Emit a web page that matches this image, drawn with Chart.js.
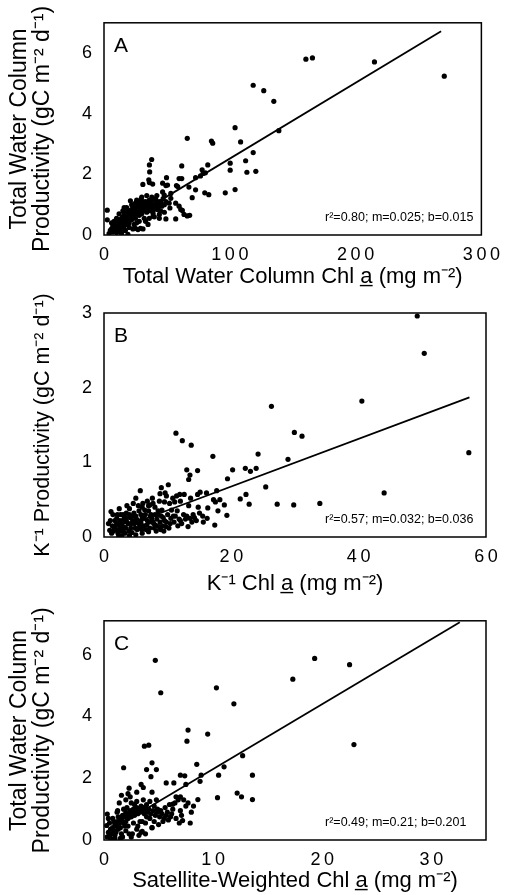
<!DOCTYPE html>
<html>
<head>
<meta charset="utf-8">
<script src="https://cdn.jsdelivr.net/npm/chart.js@4.4.1/dist/chart.umd.min.js"></script>
<style>
  html, body { margin: 0; padding: 0; background: #fff; }
  .panel { position: absolute; left: 0; width: 509px; }
</style>
</head>
<body>
<div class="panel" style="top:0;height:290px"><canvas id="chartA" width="509" height="290"></canvas></div>
<div class="panel" style="top:290px;height:308px"><canvas id="chartB" width="509" height="308"></canvas></div>
<div class="panel" style="top:598px;height:297px"><canvas id="chartC" width="509" height="297"></canvas></div>
<script>
// Panel A: total water column chl a vs productivity
const pointsA = [
  [2.6,0.82],[2.6,0.5],[160.5,5.8],[165.7,5.84],[215,5.71],[270.5,5.24],[118.6,4.94],[127,4.76],[135,4.41],
  [139,3.44],[104.2,3.54],[108.6,3.07],[66.2,3.19],[85.4,3.1],[86.4,3.03],[118.6,2.72],[112.6,2.45],
  [100.3,2.37],[100.3,2.14],[113.6,2.07],[120.7,2.1],[82.5,2.31],[78,2.15],[80.6,2.05],[61.8,2.28],
  [37.9,2.49],[36.1,2.31],[36.3,2.08],[35.6,1.82],[30.9,1.67],[36.1,1.73],[38.7,1.68],[49.7,1.89],
  [46.6,1.71],[50.5,1.65],[59.7,1.86],[61.8,1.86],[72.8,1.89],[76.7,1.95],[78.8,2.03],[67.5,1.58],
  [57.6,1.63],[72.8,1.49],[70.1,1.23],[80.1,1.39],[83.3,1.33],[96.4,1.39],[104.2,1.5],[53.1,1.37],
  [53.1,1.21],[46.6,1.42],[47.9,1.32],[21,1.13],[29.5,1.19],[30.9,1.1],[41,1.2],[43,1.1],[49.2,1.1],
  [51.8,1.05],[52.4,0.89],[57,1.05],[59.7,0.95],[61,0.84],[62.3,0.81],[63.6,0.68],[66.2,0.63],[68.1,0.65],
  [57,0.53],[49.2,0.53],[44,0.68],[42.6,0.84],[58.6,1.6],[49.2,1.63],
  [5,0.15],[6,0.2],[7,0.1],[8,0.25],[8,0.12],[9,0.3],[10,0.2],[10,0.35],[11,0.15],[11,0.4],[12,0.3],
  [12,0.5],[13,0.25],[13,0.45],[14,0.35],[14,0.55],[15,0.4],[15,0.6],[16,0.3],[16,0.5],[16,0.7],[17,0.45],
  [17,0.6],[18,0.35],[18,0.55],[18,0.75],[19,0.5],[19,0.65],[20,0.4],[20,0.6],[20,0.8],[21,0.55],[21,0.7],
  [22,0.5],[22,0.65],[22,0.85],[23,0.6],[23,0.75],[24,0.7],[24,0.9],[25,0.55],[25,0.8],[26,0.7],[26,0.9],
  [27,0.75],[27,0.95],[28,0.65],[28,0.85],[29,0.8],[29,1.0],[30,0.7],[30,0.9],[31,0.85],[31,1.05],[32,0.8],
  [32,0.95],[33,0.9],[33,1.1],[34,0.75],[34,1.0],[35,0.85],[35,1.05],[36,0.95],[37,0.8],[37,1.1],[38,0.9],
  [39,1.0],[40,0.85],[40,1.15],[41,0.95],[42,1.05],[43,0.9],[44,1.0],[45,1.1],[46,0.95],[47,1.2],[48,1.0],
  [19,0.02],[23,0.2],[25,0.22],[27,0.18],[29,0.22],[31,0.2],[14,0.05],[10,0.08],[33,0.45],[36,0.55],
  [39,0.62],[26,0.4],[24,0.35],
  [8,0.45],[10,0.55],[12,0.7],[15,0.2],[17,0.15],[20,0.25],[22,1.0],[25,1.05],[28,1.1],[15,0.8],[18,0.9],
  [30,1.25],[34,1.3],[38,1.25],[42,1.3],[45,0.8],[48,0.75],[44,0.55],[40,0.6],[35,0.35],[32,0.55],
  [28,0.45],[6,0.4],[4,0.05],[7,0.3],[13,0.1],[16,0.9],[26,1.15],[36,1.15],[39,0.72]
];
const fitA = [[4,0.12],[268,6.72]];
const xTicksA = [0, 100, 200, 300];
const yTicksA = [0, 2, 4, 6];

// Panel B: K-1 chl a vs K-1 productivity
const pointsB = [
  [49.2,2.96],[50.3,2.46],[40.5,1.82],[26.3,1.75],[57.3,1.13],[29.9,1.40],[31.1,1.35],[11.3,1.39],
  [12.3,1.29],[13.7,1.23],[17.1,1.08],[24.2,1.11],[28.9,1.04],[22.2,0.92],[23.0,0.88],[23.9,0.92],
  [20.2,0.90],[19.4,0.78],[13.0,0.90],[13.5,0.83],[13.3,0.77],[14.7,0.89],[25.4,0.67],[44.0,0.59],
  [21.4,0.51],[22.3,0.57],[22.8,0.44],[27.2,0.44],[29.8,0.43],[33.9,0.45],[17.7,0.62],[18.2,0.50],
  [17.2,0.50],[17.5,0.47],[18.9,0.43],[17.4,0.16],[19.3,0.29],[17.9,0.35],[16.3,0.39],[16.1,0.59],
  [15.1,0.60],[14.7,0.57],
  [9.0,0.66],[10.1,0.70],[9.6,0.59],[5.7,0.62],[5.0,0.52],[11.9,0.57],[12.6,0.57],[13.6,0.52],[6.1,0.45],
  [7.2,0.43],[7.7,0.45],[8.7,0.48],[9.5,0.47],[10.3,0.45],[11.1,0.47],[13.3,0.42],[14.8,0.40],[11.5,0.35],
  [12.5,0.30],[10.5,0.25],[11.0,0.20],[12.0,0.22],[13.0,0.28],[14.0,0.30],[15.0,0.32],[15.5,0.28],
  [14.5,0.22],[13.5,0.25],[10.0,0.30],[9.5,0.22],[9.0,0.28],[8.5,0.35],[8.0,0.30],[7.5,0.25],[7.0,0.35],
  [6.5,0.30],[6.0,0.25],[5.5,0.35],[5.0,0.28],[4.5,0.22],[4.0,0.30],[3.5,0.25],[3.0,0.20],[2.5,0.15],
  [2.0,0.10],[1.5,0.08],[1.1,0.34],[0.7,0.18],[0.9,0.09],[1.8,0.15],[2.2,0.05],[2.8,0.12],[3.2,0.28],
  [3.8,0.18],[4.2,0.12],[4.8,0.18],[5.2,0.10],[5.8,0.20],[6.2,0.15],[6.8,0.22],[7.2,0.12],[7.8,0.18],
  [8.2,0.08],[8.8,0.20],[9.2,0.15],[4.0,0.38],[3.5,0.32],[3.0,0.30],[2.5,0.22],[6.0,0.40],[7.0,0.42],
  [8.0,0.40],[5.0,0.03],[4.0,0.02],[2.0,0.18],[3.0,0.08],
  [1.2,0.05],[1.6,0.12],[2.0,0.25],[2.4,0.08],[2.6,0.3],[3.0,0.14],[3.3,0.05],[3.6,0.2],[4.1,0.26],
  [4.4,0.06],[4.7,0.32],[5.3,0.22],[5.6,0.14],[6.0,0.05],[6.4,0.36],[6.6,0.1],[7.1,0.2],[7.4,0.3],
  [7.9,0.12],[8.3,0.24],[8.6,0.14],[9.1,0.36],[9.4,0.08],[9.8,0.2],[10.2,0.12],[10.6,0.36],[11.2,0.28],
  [11.6,0.15],[12.2,0.18],[12.8,0.24],[13.2,0.14],[13.8,0.2],[14.2,0.26],[15.6,0.2],[16.2,0.25],
  [10.8,0.52],[11.4,0.55],[12.0,0.48],[9.8,0.55],[8.8,0.58],[7.6,0.52],[6.8,0.48],[5.4,0.42],[4.6,0.45],
  [3.6,0.42],[2.4,0.38],[1.0,0.22],[1.4,0.3],[2.8,0.02],[5.8,0.3],
  [1.3,0.15],[1.7,0.22],[2.1,0.3],[2.3,0.02],[2.7,0.18],[3.1,0.24],[3.4,0.12],[3.9,0.08],[4.3,0.18],
  [4.6,0.28],[4.9,0.12],[5.1,0.24],[5.5,0.18],[5.9,0.1],[6.3,0.25],[6.7,0.16],[7.0,0.07],[7.3,0.28],
  [7.7,0.2],[8.1,0.16],[8.4,0.3],[8.9,0.1],[9.3,0.26],[9.7,0.14],[10.4,0.18],[10.9,0.28],[11.8,0.24]
];
const fitB = [[1,0.07],[57.4,1.87]];
const xTicksB = [0, 20, 40, 60];
const yTicksB = [0, 1, 2, 3];

// Panel C: satellite-weighted chl a vs total productivity
const pointsC = [
  [4.7,5.82],[5.2,4.77],[10.3,4.93],[11.9,4.41],[19.3,5.88],[22.5,5.68],[17.3,5.21],[22.9,3.09],
  [7.7,3.56],[7.6,3.2],[9.5,3.43],[3.7,3.04],[4.1,3.07],[1.8,2.34],[4.4,2.5],[4.8,2.28],[3.9,2.28],
  [12.7,2.73],[11.0,2.37],[8.5,2.45],[7.0,2.1],[7.4,2.08],[8.9,2.1],[10.5,2.1],[13.6,2.1],[5.7,1.85],
  [6.4,1.85],[7.5,1.8],[8.8,1.9],[4.3,2.05],[3.4,1.8],[3.6,1.7],[2.3,1.68],[3.0,1.55],[1.6,1.45],
  [2.2,1.5],[4.4,1.55],[7.0,1.4],[8.6,1.31],[10.4,1.37],[12.2,1.52],[12.6,1.4],[13.6,1.31],[8.2,1.1],
  [8.0,0.9],[7.2,0.63],[7.9,0.55],[6.3,1.16],[0.3,0.84],[0.25,0.47],[1.25,0.95],[4.4,0.4],[3.5,0.28],
  [0.3,0.1],[0.4,0.25],[0.5,0.15],[0.6,0.35],[0.7,0.2],[0.8,0.4],[0.9,0.3],[1.0,0.5],[1.0,0.15],[1.1,0.45],
  [1.2,0.6],[1.3,0.35],[1.4,0.55],[1.5,0.7],[1.5,0.4],[1.6,0.65],[1.7,0.8],[1.8,0.55],[1.9,0.75],[2.0,0.9],
  [2.0,0.6],[2.1,0.8],[2.2,0.7],[2.3,0.85],[2.4,0.95],[2.5,0.75],[2.6,0.9],[2.7,1.0],[2.8,0.8],[2.9,0.95],
  [3.0,1.05],[3.1,0.85],[3.2,1.0],[3.3,0.9],[3.4,1.1],[3.5,0.95],[3.6,1.05],[3.7,0.85],[3.8,1.0],[3.9,1.15],
  [4.0,0.9],[4.1,1.0],[4.3,0.85],[4.5,0.95],[4.7,0.8],[4.9,0.9],[5.1,0.75],[5.3,0.85],[5.5,0.7],[5.7,0.8],
  [5.9,0.65],[6.1,0.75],[6.3,1.0],[6.5,1.2],[6.6,1.4],[6.8,1.3],[4.6,1.1],[4.2,1.25],[3.6,1.3],[3.0,1.25],
  [2.5,1.2],[1.8,1.0],[1.2,0.9],[0.8,0.7],[2.0,0.3],[2.5,0.1],[3.0,0.35],[3.4,0.25],[3.8,0.55],[4.4,0.4],
  [1.5,0.05],[2.2,0.45],[5.0,0.5],[5.6,1.05],[6.0,1.15],[7.0,0.95],[7.5,1.1],[7.7,1.2],[6.9,0.55],[4.8,1.3],
  [3.3,0.6],
  [0.5,0.55],[0.6,0.05],[0.9,0.6],[1.1,0.25],[1.3,0.75],[1.6,0.2],[1.9,0.45],[2.1,1.05],[2.3,0.2],
  [2.7,0.55],[2.8,1.15],[3.1,0.45],[3.5,0.6],[3.9,0.75],[4.2,0.7],[4.6,0.6],[4.9,1.0],[5.2,0.95],
  [5.4,0.6],[5.8,0.9],[6.2,0.85],[6.6,0.7],[7.1,0.8],[7.3,1.3],[1.0,0.05],[1.7,0.1],[2.6,0.2],[3.2,0.15],
  [3.8,0.2],[0.4,0.7],[2.0,1.3],[2.4,1.4],[1.4,1.2]
];
const fitC = [[0.5,0.3],[32.6,7.05]];
const xTicksC = [0, 10, 20, 30];
const yTicksC = [0, 2, 4, 6];

const FONT = "'Liberation Sans', Arial, Helvetica, sans-serif";

const panelDecor = {
  id: 'panelDecor',
  afterDraw(chart, args, opts) {
    const { ctx, chartArea: a } = chart;
    ctx.save();
    ctx.strokeStyle = '#000';
    ctx.lineWidth = 1.5;
    ctx.strokeRect(a.left, a.top, a.right - a.left, a.bottom - a.top);
    ctx.fillStyle = '#000';
    ctx.textBaseline = 'alphabetic';
    ctx.font = '21px ' + FONT;
    ctx.fillText(opts.letter, a.left + 10, a.top + 29);
    ctx.font = '12.5px ' + FONT;
    ctx.fillText(opts.stats, 325, a.bottom - 14);
    ctx.restore();
  }
};

function makePanel(id, cfg) {
  const ctx = document.getElementById(id).getContext('2d');
  return new Chart(ctx, {
    type: 'scatter',
    data: {
      datasets: [
        {
          data: cfg.points.map(p => ({ x: p[0], y: p[1] })),
          backgroundColor: '#000',
          borderWidth: 0,
          pointRadius: 2.6,
          pointHoverRadius: 2.6
        },
        {
          type: 'line',
          data: cfg.fit.map(p => ({ x: p[0], y: p[1] })),
          borderColor: '#000',
          borderWidth: 1.8,
          pointRadius: 0,
          fill: false
        }
      ]
    },
    options: {
      responsive: false,
      animation: false,
      layout: { padding: { top: cfg.top, right: 23, left: 0, bottom: 0 } },
      plugins: {
        legend: { display: false },
        tooltip: { enabled: false },
        panelDecor: { letter: cfg.letter, stats: cfg.stats }
      },
      scales: {
        x: {
          type: 'linear',
          min: 0,
          max: cfg.xMax,
          grid: { display: false, drawTicks: false },
          border: { display: false },
          afterBuildTicks: s => { s.ticks = cfg.xTicks.map(v => ({ value: v })); },
          afterFit: s => { s.height = cfg.xAxisH; },
          ticks: {
            color: '#000',
            padding: 9,
            maxRotation: 0,
            autoSkip: false,
            font: { family: FONT, size: 18 },
            callback: v => String(v).split('').join('\u2009')
          },
          title: {
            display: true,
            text: cfg.xTitle,
            color: '#000',
            font: { family: FONT, size: 22, lineHeight: 1 },
            padding: { top: 0, bottom: cfg.xTitlePad }
          }
        },
        y: {
          type: 'linear',
          min: 0,
          max: cfg.yMax,
          grid: { display: false, drawTicks: false },
          border: { display: false },
          afterBuildTicks: s => { s.ticks = cfg.yTicks.map(v => ({ value: v })); },
          afterFit: s => { s.width = 104; },
          ticks: {
            color: '#000',
            padding: 12,
            font: { family: FONT, size: 18 }
          },
          title: {
            display: true,
            text: cfg.yTitle,
            color: '#000',
            font: { family: FONT, size: cfg.yTitleSize, lineHeight: cfg.yTitleLH },
            padding: { top: cfg.yTitlePad, bottom: 0 }
          }
        }
      }
    },
    plugins: [panelDecor]
  });
}

makePanel('chartA', {
  points: pointsA, fit: fitA, xTicks: xTicksA, yTicks: yTicksA,
  xMax: 300, yMax: 7, top: 12, xAxisH: 55, xTitlePad: 2,
  yTitleSize: 23, yTitleLH: 1, yTitlePad: 8.5,
  letter: 'A', stats: 'r\u00b2=0.80; m=0.025; b=0.015',
  xTitle: 'Total Water Column Chl a\u0332 (mg m\u207b\u00b2)',
  yTitle: ['Total Water Column', 'Productivity (gC m\u207b\u00b2 d\u207b\u00b9)']
});

makePanel('chartB', {
  points: pointsB, fit: fitB, xTicks: xTicksB, yTicks: yTicksB,
  xMax: 60, yMax: 3, top: 23, xAxisH: 61, xTitlePad: 3,
  yTitleSize: 21.5, yTitleLH: 1, yTitlePad: 32.25,
  letter: 'B', stats: 'r\u00b2=0.57; m=0.032; b=0.036',
  xTitle: 'K\u207b\u00b9 Chl a\u0332 (mg m\u207b\u00b2)',
  yTitle: 'K\u207b\u00b9 Productivity (gC m\u207b\u00b2 d\u207b\u00b9)'
});

makePanel('chartC', {
  points: pointsC, fit: fitC, xTicks: xTicksC, yTicks: yTicksC,
  xMax: 35, yMax: 7.1, top: 17, xAxisH: 55, xTitlePad: 3,
  yTitleSize: 23, yTitleLH: 1, yTitlePad: 8.5,
  letter: 'C', stats: 'r\u00b2=0.49; m=0.21; b=0.201',
  xTitle: 'Satellite-Weighted Chl a\u0332 (mg m\u207b\u00b2)',
  yTitle: ['Total Water Column', 'Productivity (gC m\u207b\u00b2 d\u207b\u00b9)']
});
</script>
</body>
</html>
